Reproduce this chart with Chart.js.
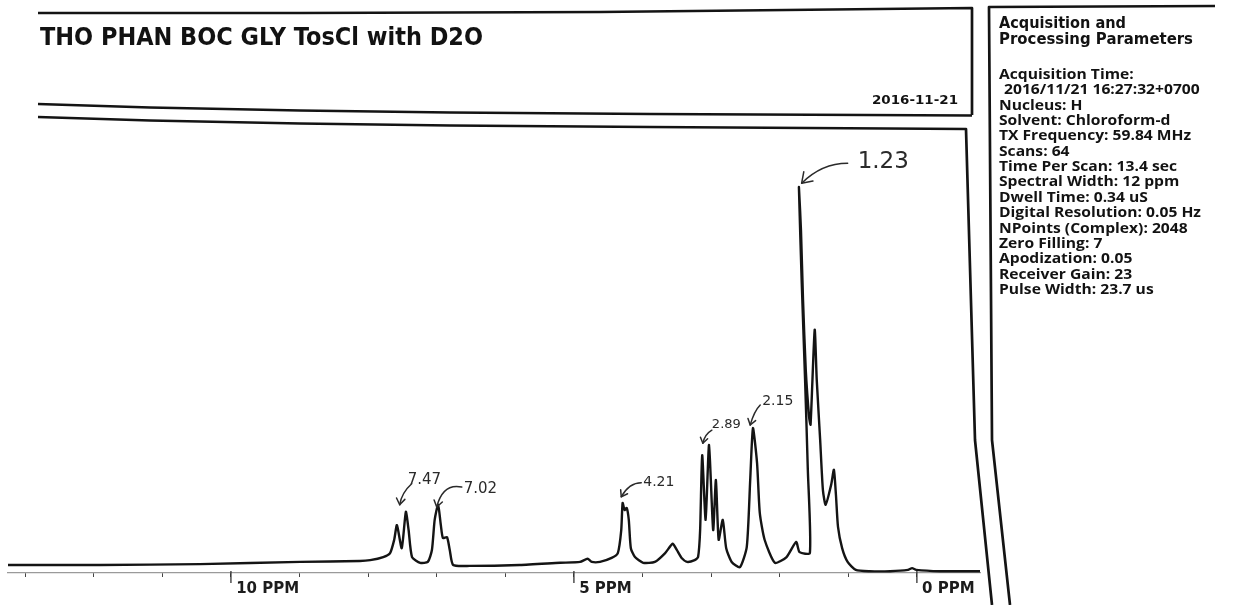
<!DOCTYPE html>
<html>
<head>
<meta charset="utf-8">
<title>THO PHAN BOC GLY TosCl with D2O</title>
<script src="https://cdn.jsdelivr.net/npm/chart.js@4.4.1/dist/chart.umd.min.js"></script>
<style>
  html, body { margin: 0; padding: 0; background: #fff; }
  #nmr { display: block; }
</style>
</head>
<body>
<canvas id="nmr" width="1249" height="605"></canvas>
<script>
// trace, left to right (ppm axis runs backwards)
const shiftPpm = [
  13.25, 11.91, 10.45, 8.99, 8.12, 7.97, 7.78, 7.68, 7.62, 7.58, 7.51, 7.45, 7.41, 7.36,
  7.24, 7.13, 7.07, 7.03, 6.98, 6.94, 6.91, 6.85, 6.81, 6.76, 6.52, 5.79, 5.20, 4.91,
  4.80, 4.74, 4.62, 4.45, 4.36, 4.31, 4.29, 4.26, 4.23, 4.20, 4.17, 4.11, 3.99, 3.82,
  3.67, 3.56, 3.50, 3.43, 3.35, 3.24, 3.19, 3.16, 3.13, 3.08, 3.03, 2.97, 2.93, 2.89,
  2.83, 2.78, 2.70, 2.58, 2.48, 2.43, 2.39, 2.33, 2.29, 2.22, 2.07, 1.90, 1.76, 1.71,
  1.56, 1.59, 1.63, 1.68, 1.72, 1.69, 1.66, 1.62, 1.57, 1.55, 1.49, 1.46, 1.41, 1.37,
  1.33, 1.25, 1.21, 1.18, 1.15, 1.09, 1.01, 0.89, 0.69, 0.39, 0.13, 0.07, 0.01, -0.34, -0.92
];
const intensity = [
  -0.2, -0.2, 0.0, 0.5, 0.7, 0.9, 1.6, 2.5, 5.5, 8.8, 3.6, 11.8, 7.7, 1.6,
  0.3, 0.5, 3.2, 10.0, 13.4, 8.8, 5.9, 6.1, 3.2, -0.2, -0.4, -0.2, 0.3, 0.5,
  1.2, 0.5, 0.5, 1.4, 2.5, 7.7, 13.8, 12.2, 12.7, 10.0, 3.6, 1.6, 0.3, 0.5,
  2.5, 4.6, 3.2, 1.4, 0.5, 0.9, 1.6, 7.7, 24.6, 10.0, 26.9, 7.7, 19.0, 5.5,
  10.0, 3.6, 0.5, -0.7, 3.9, 19.0, 30.7, 22.8, 11.5, 5.5, 0.3, 1.6, 5.0, 2.7,
  2.5, 21.3, 41.6, 64.1, 85.1, 75.4, 59.6, 43.8, 33.0, 31.5, 52.9, 41.6, 28.0, 16.7,
  13.4, 17.9, 21.3, 15.6, 8.4, 3.6, 0.5, -1.3, -1.6, -1.6, -1.3, -0.9, -1.3, -1.6, -1.6
];

const tickPpm = [0, 1, 2, 3, 4, 5, 6, 7, 8, 9, 10, 11, 12, 13];
const majorTicks = [0, 5, 10];
const majorLabels = ['0 PPM', '5 PPM', '10 PPM'];

// hand-written peak marks: text, and the peak each arrow points at
const peakText = ['7.47', '7.02', '4.21', '2.89', '2.15', '1.23'];
const peakPpm = [7.54, 7.00, 4.31, 3.12, 2.43, 1.68];
const peakTop = [13.4, 12.9, 15.2, 27.3, 31.4, 86.0];

const titleText = 'THO PHAN BOC GLY TosCl with D2O';
const dateText = '2016-11-21';
const paramHead = ['Acquisition and', 'Processing Parameters'];
const paramLines = [
  'Acquisition Time:',
  '2016/11/21 16:27:32+0700',
  'Nucleus: H',
  'Solvent: Chloroform-d',
  'TX Frequency: 59.84 MHz',
  'Scans: 64',
  'Time Per Scan: 13.4 sec',
  'Spectral Width: 12 ppm',
  'Dwell Time: 0.34 uS',
  'Digital Resolution: 0.05 Hz',
  'NPoints (Complex): 2048',
  'Zero Filling: 7',
  'Apodization: 0.05',
  'Receiver Gain: 23',
  'Pulse Width: 23.7 us'
];

// where each pen note sits relative to its arrow tip (px)
const noteStyle = [
  { dx: 8, dy: -21, size: 15, tail: [12, -21], ctrl: [2, -12] },
  { dx: 27, dy: -14, size: 15, tail: [25, -20], ctrl: [6, -24] },
  { dx: 22, dy: -11, size: 14, tail: [20, -14], ctrl: [8, -14] },
  { dx: 9, dy: -15, size: 13, tail: [9, -13], ctrl: [2, -9] },
  { dx: 12, dy: -20, size: 14, tail: [10, -20], ctrl: [4, -14] },
  { dx: 56, dy: -15, size: 23, tail: [46, -20], ctrl: [20, -20] }
];

function stretchText(ctx, text, x, y, sx) {
  ctx.save();
  ctx.translate(x, y);
  ctx.scale(sx, 1);
  ctx.fillText(text, 0, 0);
  ctx.restore();
}

function fitText(ctx, text, x, y, width) {
  stretchText(ctx, text, x, y, width / ctx.measureText(text).width);
}

function line(ctx, pts) {
  ctx.beginPath();
  ctx.moveTo(pts[0][0], pts[0][1]);
  for (let i = 1; i < pts.length; i++) ctx.lineTo(pts[i][0], pts[i][1]);
  ctx.stroke();
}

const paperPlugin = {
  id: 'paper',
  beforeDraw(chart) {
    const ctx = chart.ctx;
    ctx.save();
    ctx.fillStyle = '#ffffff';
    ctx.fillRect(0, 0, chart.width, chart.height);
    ctx.restore();
  },
  afterDraw(chart) {
    const ctx = chart.ctx;
    const xs = chart.scales.x, ys = chart.scales.y;
    ctx.save();

    // major ticks are longer
    ctx.strokeStyle = '#333';
    ctx.lineWidth = 1.3;
    majorTicks.forEach(v => {
      const px = xs.getPixelForValue(v);
      line(ctx, [[px, xs.top - 2], [px, xs.top + 10]]);
    });

    // frames of the printout
    ctx.strokeStyle = '#141414';
    ctx.lineWidth = 2.7;
    ctx.lineJoin = 'round';
    line(ctx, [[38, 13], [300, 13], [600, 12], [972, 8], [972, 115]]);
    line(ctx, [[38, 104], [150, 107.5], [300, 110.5], [450, 112.5], [650, 114], [972, 115.5]]);
    line(ctx, [[38, 117], [150, 120.5], [300, 123.5], [450, 125.5], [650, 127], [966, 129],
               [975, 440], [992, 605]]);
    line(ctx, [[1215, 6], [989, 7], [992, 440], [1010, 605]]);

    ctx.fillStyle = '#121212';
    ctx.textBaseline = 'alphabetic';

    ctx.font = 'bold 25px "DejaVu Sans"';
    fitText(ctx, titleText, 40, 45, 443);
    ctx.font = 'bold 13px "DejaVu Sans"';
    fitText(ctx, dateText, 872, 104, 86);

    ctx.font = 'bold 15px "DejaVu Sans"';
    fitText(ctx, paramHead[0], 999, 28, 127);
    fitText(ctx, paramHead[1], 999, 44, 194);

    ctx.font = 'bold 14px "Open Sans"';
    const sx = 202 / ctx.measureText(paramLines[9]).width;
    paramLines.forEach((t, i) => {
      stretchText(ctx, t, i === 1 ? 1004 : 999, 79 + i * 15.35, sx);
    });

    // pen notes with arrows
    ctx.strokeStyle = '#2a2a2a';
    ctx.fillStyle = '#2a2a2a';
    ctx.lineWidth = 1.5;
    ctx.lineCap = 'round';
    peakText.forEach((t, i) => {
      const st = noteStyle[i];
      const tx = xs.getPixelForValue(peakPpm[i]);
      const ty = ys.getPixelForValue(peakTop[i]);
      ctx.beginPath();
      ctx.moveTo(tx + st.tail[0], ty + st.tail[1]);
      ctx.quadraticCurveTo(tx + st.ctrl[0], ty + st.ctrl[1], tx, ty);
      ctx.stroke();
      const a = Math.atan2(-st.ctrl[1], -st.ctrl[0]);
      const h = st.size * 0.5;
      line(ctx, [[tx - h * Math.cos(a - 0.6), ty - h * Math.sin(a - 0.6)], [tx, ty],
                 [tx - h * Math.cos(a + 0.6), ty - h * Math.sin(a + 0.6)]]);
      ctx.font = st.size + 'px "DejaVu Sans"';
      ctx.fillText(t, tx + st.dx, ty + st.dy);
    });

    ctx.restore();
  }
};

new Chart(document.getElementById('nmr'), {
  type: 'line',
  data: {
    datasets: [{
      data: shiftPpm.map((p, i) => ({ x: p, y: intensity[i] })),
      borderColor: '#141414',
      borderWidth: 2.4,
      pointRadius: 0,
      tension: 0.2,
      fill: false
    }]
  },
  options: {
    responsive: false,
    animation: false,
    layout: { padding: { left: 8, right: 269, top: 130, bottom: 0 } },
    plugins: { legend: { display: false }, tooltip: { enabled: false } },
    scales: {
      x: {
        type: 'linear',
        reverse: true,
        min: -0.92,
        max: 13.25,
        afterBuildTicks: s => { s.ticks = tickPpm.map(v => ({ value: v })); },
        afterFit: s => { s.height = 32; },
        border: { display: true, color: '#9a9a9a', width: 1.2 },
        grid: { display: true, drawOnChartArea: false, drawTicks: true, tickLength: 4, color: '#444' },
        ticks: {
          align: 'start',
          padding: 3,
          autoSkip: false,
          maxRotation: 0,
          color: '#1c1c1c',
          font: { family: 'DejaVu Sans', weight: 'bold', size: 15 },
          callback: v => {
            const k = majorTicks.indexOf(v);
            return k < 0 ? '' : ' ' + majorLabels[k];
          }
        }
      },
      y: { display: false, min: -2, max: 98 }
    }
  },
  plugins: [paperPlugin]
});
</script>
</body>
</html>
